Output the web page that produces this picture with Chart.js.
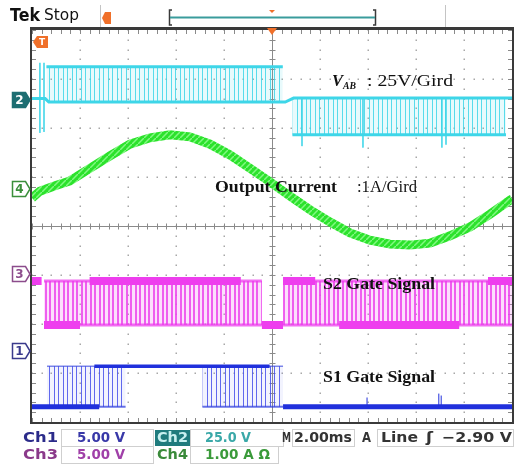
<!DOCTYPE html>
<html>
<head>
<meta charset="utf-8">
<script src="https://cdn.jsdelivr.net/npm/chart.js@4/dist/chart.umd.min.js"></script>
<style>
  html, body { margin: 0; padding: 0; background: #fff; }
</style>
</head>
<body>
<canvas id="scope" width="515" height="466"></canvas>
<script>
// horizontal: time in ms (2 ms/div, trigger at centre); vertical: screen divisions
const timeRange = [-10, 10];
const divRange = [-4, 4];

// Ch2 - V_AB
const vabTrace = [[-10, 2.6], [-9.45, 2.6], [-9.3, 2.53], [0.55, 2.53], [0.9, 2.61], [10, 2.61]];
const vabBandTimes = [[-9.4, 0.45], [0.85, 9.75]];
const vabBandHigh = [3.25, 2.61];
const vabBandLow = [2.53, 1.86];
const vabSpikes = [[-9.67, 3.33, 1.9], [-9.5, 3.33, 1.92], [1.25, 2.61, 1.63], [3.79, 2.61, 1.6], [7.08, 2.61, 1.6], [7.25, 2.61, 1.66]];

// Ch4 - output current (ripple band centre)
const currentTrace = [
  [-10, 0.57], [-9.67, 0.71], [-9.04, 0.82], [-8.42, 0.92], [-7.58, 1.18], [-6.75, 1.43],
  [-5.92, 1.67], [-5.08, 1.8], [-4.25, 1.86], [-3.42, 1.82], [-2.58, 1.67], [-1.75, 1.45],
  [-0.92, 1.18], [-0.08, 0.9], [0.75, 0.61], [1.58, 0.33], [2.42, 0.08], [3.25, -0.14],
  [4.08, -0.29], [4.92, -0.37], [5.75, -0.39], [6.58, -0.35], [7.42, -0.2], [8.25, -0.02],
  [9.08, 0.24], [9.92, 0.53], [10, 0.55]
];

// Ch3 - S2 gate
const s2Levels = [-1.12, -2.02];
const s2BandTimes = [[-9.5, -0.42], [0.46, 10]];
const s2HighRuns = [[-10, -9.6], [-7.6, -1.3], [0.46, 1.8], [9.0, 10]];
const s2LowRuns = [[-9.5, -8.0], [-0.42, 0.46], [2.8, 7.8]];

// Ch1 - S1 gate
const s1Levels = [-2.86, -3.69];
const s1BandTimes = [[-9.375, -6.1], [-2.9, 0.46]];
const s1HighRuns = [[-7.4, -0.1]];
const s1LowRuns = [[-10, -7.2], [0.46, 10]];
const s1Spikes = [[3.96, -3.69, -3.5], [6.95, -3.69, -3.42], [7.05, -3.69, -3.46]];

// channel ground markers on the left edge
const refLabels = ['2', '4', '3', '1'];
const refLevels = [2.57, 0.76, -0.98, -2.55];

const CYAN = 'rgb(62,214,232)';
const GREEN = 'rgb(44,226,44)';
const MAGENTA = 'rgb(238,62,238)';
const BLUE = 'rgb(32,48,220)';

function pts(arr) { return arr.map(p => ({ x: p[0], y: p[1] })); }
function runs(arr, level) {
  return arr.flatMap(r => [{ x: r[0], y: level }, { x: r[1], y: level }, { x: r[1], y: null }]);
}
function spikes(arr) {
  return arr.flatMap(s => [{ x: s[0], y: s[1] }, { x: s[0], y: s[2] }, { x: s[0], y: null }]);
}
// vertical pulse lines for the switching regions
function stripes(color, haze, w) {
  const c = document.createElement('canvas');
  c.width = 9; c.height = 4;
  const g = c.getContext('2d');
  g.fillStyle = haze;
  g.fillRect(0, 0, 9, 4);
  g.fillStyle = color;
  g.fillRect(0, 0, w, 4);
  g.fillRect(4, 0, w, 4);
  return g.createPattern(c, 'repeat');
}
function diag(color, color2) {
  const c = document.createElement('canvas');
  c.width = 6; c.height = 6;
  const g = c.getContext('2d');
  g.fillStyle = color; g.fillRect(0, 0, 6, 6);
  g.strokeStyle = color2; g.lineWidth = 1.5;
  g.beginPath(); g.moveTo(0, 6); g.lineTo(6, 0); g.stroke();
  return g.createPattern(c, 'repeat');
}

const datasets = [];
function line(data, color, width, order) {
  datasets.push({ data: data, borderColor: color, borderWidth: width, pointRadius: 0, fill: false, order: order, spanGaps: false });
}
function band(times, hi, lo, pattern) {
  datasets.push({ data: [{ x: times[0], y: hi }, { x: times[1], y: hi }], fill: '+1', backgroundColor: pattern, borderWidth: 0, pointRadius: 0, order: 9 });
  datasets.push({ data: [{ x: times[0], y: lo }, { x: times[1], y: lo }], fill: false, borderWidth: 0, pointRadius: 0, order: 9 });
}

// Ch2
const cyanStripe = stripes('rgba(62,214,232,0.85)', 'rgba(62,214,232,0.12)', 1);
vabBandTimes.forEach((t, i) => band(t, vabBandHigh[i], vabBandLow[i], cyanStripe));
line(runs([vabBandTimes[0]], vabBandHigh[0]), CYAN, 3, 2);
line(runs([vabBandTimes[1]], vabBandLow[1]), CYAN, 3, 2);
line(spikes(vabSpikes), 'rgba(62,214,232,0.8)', 1, 2);
line(pts(vabTrace), CYAN, 3, 2);

// Ch4
line(pts(currentTrace), diag(GREEN, 'rgb(130,248,130)'), 9, 1);

// Ch3
const magStripe = stripes('rgba(236,70,236,0.85)', 'rgba(240,110,240,0.22)', 2);
s2BandTimes.forEach(t => band(t, s2Levels[0], s2Levels[1], magStripe));
line(runs(s2BandTimes, s2Levels[0]), 'rgba(238,62,238,0.75)', 3, 3);
line(runs(s2BandTimes, s2Levels[1]), 'rgba(238,62,238,0.75)', 3, 3);
line(runs(s2HighRuns, s2Levels[0]), MAGENTA, 8, 2);
line(runs(s2LowRuns, s2Levels[1]), MAGENTA, 8, 2);

// Ch1
const blueStripe = stripes('rgba(70,80,235,0.85)', 'rgba(90,100,240,0.08)', 1);
s1BandTimes.forEach(t => band(t, s1Levels[0], s1Levels[1], blueStripe));
line(runs(s1BandTimes, s1Levels[1]), 'rgba(40,56,220,0.7)', 2, 3);
line(runs(s1BandTimes, s1Levels[0]), 'rgba(40,56,220,0.6)', 1.5, 3);
line(runs(s1HighRuns, s1Levels[0]), BLUE, 3.5, 2);
line(runs(s1LowRuns, s1Levels[1]), BLUE, 5, 2);
line(spikes(s1Spikes), BLUE, 1, 2);

function fitText(ctx, txt, x, y, w, font, color) {
  ctx.save();
  ctx.font = font;
  ctx.fillStyle = color;
  ctx.textBaseline = 'middle';
  const m = ctx.measureText(txt).width;
  ctx.translate(x, y);
  ctx.scale(w / m, 1);
  ctx.fillText(txt, 0, 0);
  ctx.restore();
}

const graticule = {
  id: 'graticule',
  beforeDatasetsDraw(chart) {
    const ctx = chart.ctx, xs = chart.scales.x, ys = chart.scales.y, a = chart.chartArea;
    ctx.save();
    ctx.fillStyle = '#a8a8a8';
    for (let i = 1; i < 10; i++) {
      if (i === 5) continue;
      const px = Math.round(xs.getPixelForValue(timeRange[0] + i * 2));
      for (let v = divRange[0]; v <= divRange[1] + 0.001; v += 0.2) {
        ctx.fillRect(px - 0.5, Math.round(ys.getPixelForValue(v)) - 0.5, 1.5, 1.5);
      }
    }
    for (let j = 1; j < 8; j++) {
      if (j === 4) continue;
      const py = Math.round(ys.getPixelForValue(divRange[0] + j));
      for (let t = timeRange[0]; t <= timeRange[1] + 0.001; t += 0.4) {
        ctx.fillRect(Math.round(xs.getPixelForValue(t)) - 0.5, py - 0.5, 1.5, 1.5);
      }
    }
    // centre cross with minor ticks
    const cx = Math.round(xs.getPixelForValue(0)) + 0.5, cy = Math.round(ys.getPixelForValue(0)) + 0.5;
    ctx.strokeStyle = '#8a8a8a';
    ctx.lineWidth = 1;
    ctx.beginPath();
    ctx.moveTo(a.left, cy); ctx.lineTo(a.right, cy);
    ctx.moveTo(cx, a.top); ctx.lineTo(cx, a.bottom);
    for (let t = timeRange[0]; t <= timeRange[1] + 0.001; t += 0.4) {
      const px = Math.round(xs.getPixelForValue(t)) + 0.5;
      ctx.moveTo(px, cy - 3); ctx.lineTo(px, cy + 3);
      ctx.moveTo(px, a.top); ctx.lineTo(px, a.top + 4);
      ctx.moveTo(px, a.bottom); ctx.lineTo(px, a.bottom - 4);
    }
    for (let v = divRange[0]; v <= divRange[1] + 0.001; v += 0.2) {
      const py = Math.round(ys.getPixelForValue(v)) + 0.5;
      ctx.moveTo(cx - 3, py); ctx.lineTo(cx + 3, py);
      ctx.moveTo(a.left, py); ctx.lineTo(a.left + 4, py);
      ctx.moveTo(a.right, py); ctx.lineTo(a.right - 4, py);
    }
    ctx.stroke();
    ctx.strokeStyle = '#3a3a3a';
    ctx.lineWidth = 2;
    ctx.strokeRect(a.left - 1, a.top - 1, a.right - a.left + 2, a.bottom - a.top + 2);
    ctx.lineWidth = 3;
    ctx.beginPath(); ctx.moveTo(a.left - 2, a.top - 1.5); ctx.lineTo(a.right + 2, a.top - 1.5); ctx.stroke();
    ctx.restore();
  },
  afterDatasetsDraw(chart) {
    const ctx = chart.ctx;
    const serif = '"Liberation Serif", "Times New Roman", serif';
    fitText(ctx, 'V', 332, 82, 11, 'italic bold 17px ' + serif, '#111');
    fitText(ctx, 'AB', 343, 86, 13, 'italic bold 10px ' + serif, '#111');
    fitText(ctx, ': 25V/Gird', 367, 82, 86, '17px ' + serif, '#111');
    fitText(ctx, 'Output Current', 215, 188, 122, 'bold 17px ' + serif, '#111');
    fitText(ctx, ':1A/Gird', 357, 188, 60, '17px ' + serif, '#111');
    fitText(ctx, 'S2 Gate Signal', 323, 285, 112, 'bold 17px ' + serif, '#111');
    fitText(ctx, 'S1 Gate Signal', 323, 378, 112, 'bold 17px ' + serif, '#111');
  },
  afterDraw(chart) {
    const ctx = chart.ctx, xs = chart.scales.x, ys = chart.scales.y, a = chart.chartArea;
    const sans = '"DejaVu Sans", sans-serif';
    const orange = '#f0702a';
    ctx.save();

    // channel ground markers
    const refFill = ['#1d6e72', '#fff', '#fff', '#fff'];
    const refEdge = ['#1d6e72', '#3b8f3b', '#8c4c8c', '#3a3a8c'];
    const refText = ['#fff', '#3b8f3b', '#8c4c8c', '#3a3a8c'];
    refLabels.forEach((lab, i) => {
      const py = Math.round(ys.getPixelForValue(refLevels[i]));
      ctx.beginPath();
      ctx.moveTo(12.5, py - 7.5); ctx.lineTo(25.5, py - 7.5); ctx.lineTo(30, py);
      ctx.lineTo(25.5, py + 7.5); ctx.lineTo(12.5, py + 7.5); ctx.closePath();
      ctx.fillStyle = refFill[i]; ctx.fill();
      ctx.strokeStyle = refEdge[i]; ctx.lineWidth = 1.5; ctx.stroke();
      ctx.fillStyle = refText[i];
      ctx.font = 'bold 12px ' + sans;
      ctx.textAlign = 'center'; ctx.textBaseline = 'middle';
      ctx.fillText(lab, 19.5, py + 1);
    });

    // trigger markers
    ctx.fillStyle = orange;
    ctx.beginPath();
    ctx.moveTo(33, 42); ctx.lineTo(37, 36); ctx.lineTo(48, 36); ctx.lineTo(48, 48); ctx.lineTo(37, 48); ctx.closePath();
    ctx.fill();
    ctx.fillStyle = '#fff'; ctx.font = 'bold 9px ' + sans; ctx.fillText('T', 42, 42.5);
    const cx = xs.getPixelForValue(0);
    ctx.fillStyle = orange;
    ctx.beginPath();
    ctx.moveTo(cx - 5, a.top - 2); ctx.lineTo(cx + 5, a.top - 2); ctx.lineTo(cx, a.top + 5); ctx.closePath();
    ctx.fill();

    // header
    ctx.textAlign = 'left';
    fitText(ctx, 'Tek', 10, 17, 30, 'bold 17px ' + sans, '#111');
    fitText(ctx, 'Stop', 44, 16, 35, '16px ' + sans, '#111');
    ctx.strokeStyle = '#c4c4c4'; ctx.lineWidth = 1;
    ctx.beginPath(); ctx.moveTo(100.5, 5); ctx.lineTo(100.5, 27); ctx.moveTo(445.5, 5); ctx.lineTo(445.5, 27); ctx.stroke();
    ctx.fillStyle = orange;
    ctx.beginPath();
    ctx.moveTo(102, 18); ctx.lineTo(105, 12); ctx.lineTo(111, 12); ctx.lineTo(111, 24); ctx.lineTo(105, 24); ctx.closePath();
    ctx.fill();
    ctx.strokeStyle = '#3a3a3a'; ctx.lineWidth = 1.5;
    ctx.beginPath();
    ctx.moveTo(172, 10); ctx.lineTo(169.5, 10); ctx.lineTo(169.5, 25); ctx.lineTo(172, 25);
    ctx.moveTo(373, 10); ctx.lineTo(375.5, 10); ctx.lineTo(375.5, 25); ctx.lineTo(373, 25);
    ctx.stroke();
    ctx.strokeStyle = '#3a9c9c'; ctx.lineWidth = 2;
    ctx.beginPath(); ctx.moveTo(170, 17.5); ctx.lineTo(375, 17.5); ctx.stroke();
    ctx.fillStyle = orange;
    ctx.beginPath(); ctx.moveTo(269, 10); ctx.lineTo(275, 10); ctx.lineTo(272, 13); ctx.closePath(); ctx.fill();

    // status readout
    ctx.strokeStyle = '#cfcfcf'; ctx.lineWidth = 1;
    ctx.strokeRect(61.5, 429.5, 92, 17);
    ctx.strokeRect(190.5, 429.5, 93, 17);
    ctx.strokeRect(292.5, 429.5, 62, 17);
    ctx.strokeRect(377.5, 429.5, 136, 17);
    ctx.strokeRect(61.5, 446.5, 92, 17);
    ctx.strokeRect(190.5, 446.5, 88, 17);
    ctx.fillStyle = '#1f7b7d';
    ctx.fillRect(155, 430, 35, 16);
    const bold = 'bold 14px ' + sans;
    fitText(ctx, 'Ch1', 23, 438, 35, bold, '#2b2b8a');
    fitText(ctx, '5.00 V', 77, 438, 48, bold, '#3838a8');
    fitText(ctx, 'Ch2', 157, 438, 31, bold, '#c8f0f0');
    fitText(ctx, '25.0 V', 205, 438, 46, bold, '#3aa8a8');
    fitText(ctx, 'M', 282, 438, 9, bold, '#333');
    fitText(ctx, '2.00ms', 294, 438, 58, bold, '#333');
    fitText(ctx, 'A', 362, 438, 9, bold, '#333');
    fitText(ctx, 'Line', 381, 438, 37, bold, '#333');
    fitText(ctx, 'ʃ', 426, 438, 7, bold, '#333');
    fitText(ctx, '\u22122.90 V', 442, 438, 70, bold, '#333');
    fitText(ctx, 'Ch3', 23, 455, 35, bold, '#8a3a8a');
    fitText(ctx, '5.00 V', 77, 455, 48, bold, '#a040a8');
    fitText(ctx, 'Ch4', 157, 455, 31, bold, '#3a8a3a');
    fitText(ctx, '1.00 A \u03a9', 205, 455, 65, bold, '#3a9a3a');
    ctx.restore();
  }
};

new Chart(document.getElementById('scope'), {
  type: 'line',
  data: { datasets: datasets },
  options: {
    responsive: false,
    animation: false,
    layout: { padding: { left: 32, top: 30, right: 3, bottom: 44 } },
    elements: { line: { tension: 0 } },
    scales: {
      x: { type: 'linear', min: timeRange[0], max: timeRange[1], display: false },
      y: { type: 'linear', min: divRange[0], max: divRange[1], display: false }
    },
    plugins: { legend: { display: false }, tooltip: { enabled: false } }
  },
  plugins: [graticule]
});
</script>
</body>
</html>
